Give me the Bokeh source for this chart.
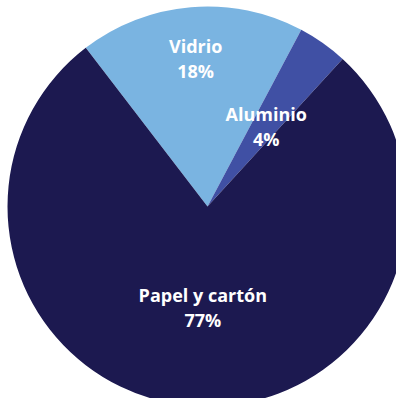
import math
from bokeh.plotting import figure
from bokeh.models import ColumnDataSource
from bokeh.core.properties import value
from bokeh.embed import file_html
from bokeh.resources import INLINE

categories = ["Vidrio", "Aluminio", "Papel y cartón"]
values = [18, 4, 77]
pct_labels = ["18%", "4%", "77%"]
colors = ["#7ab4e1", "#4050a4", "#1c1950"]

R = 200
start_deg = 127.5
label_r = [0.71, 0.47, 0.54]
label_shift_deg = [0, -3.5, 0]

total = sum(values)
starts, ends, lx, ly = [], [], [], []
a = math.radians(start_deg)
for v, fr, sh in zip(values, label_r, label_shift_deg):
    span = 2 * math.pi * v / total
    starts.append(a)
    ends.append(a - span)
    mid = a - span / 2 + math.radians(sh)
    lx.append(R * fr * math.cos(mid))
    ly.append(R * fr * math.sin(mid))
    a -= span

src = ColumnDataSource(dict(start=starts, end=ends, color=colors,
                            name=categories, pct=pct_labels, x=lx, y=ly))

p = figure(width=396, height=398, x_range=(-207, 189), y_range=(-192, 206),
           output_backend="svg", toolbar_location=None, min_border=0)
p.axis.visible = False
p.grid.visible = False
p.outline_line_color = None
p.background_fill_color = "white"

p.wedge(x=0, y=0, radius=R, start_angle="start", end_angle="end",
        direction="clock", fill_color="color", line_color=None, source=src)

p.text(x="x", y="y", text="name", source=src, text_color="white",
       text_font=value("Open Sans"), text_font_style="bold",
       text_font_size="18px", text_align="center",
       text_baseline="alphabetic", y_offset=-19)
p.text(x="x", y="y", text="pct", source=src, text_color="white",
       text_font=value("Open Sans"), text_font_style="bold",
       text_font_size="18px", text_align="center",
       text_baseline="alphabetic", y_offset=6)

open("out.html", "w").write(file_html(p, INLINE))
